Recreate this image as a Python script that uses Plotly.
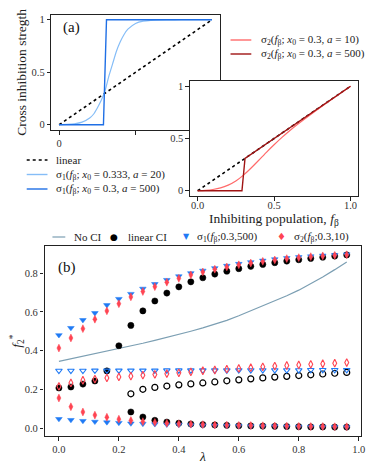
import plotly.graph_objects as go

W, H = 377, 465

# ---------------- Panel (a): cross-inhibition functions ----------------
f_lin = [0.0, 1.0]
lin_val = [0.0, 1.0]

f_s1_soft = [0.0, 0.05, 0.1, 0.15, 0.2, 0.225, 0.25, 0.275, 0.3, 0.325, 0.35,
             0.375, 0.4, 0.425, 0.45, 0.5, 0.55, 0.6, 0.7, 0.8, 1.0]
s1_soft = [0.001, 0.003, 0.009, 0.025, 0.065, 0.10, 0.16, 0.23, 0.32, 0.46, 0.58,
           0.70, 0.79, 0.86, 0.91, 0.965, 0.987, 0.995, 0.999, 1.0, 1.0]

f_s1_step = [0.0, 0.29, 0.31, 1.0]
s1_step = [0.0, 0.0, 1.0, 1.0]

# ---------------- Inset: sigma_2 ----------------
f_s2_soft = [0.0, 0.05, 0.1, 0.15, 0.2, 0.25, 0.3, 0.35, 0.4, 0.45, 0.5, 0.55,
             0.6, 0.65, 0.7, 0.8, 0.9, 1.0]
s2_soft = [0.0, 0.004, 0.012, 0.027, 0.054, 0.094, 0.15, 0.218, 0.292, 0.368,
           0.44, 0.508, 0.572, 0.631, 0.687, 0.795, 0.898, 0.999]

f_s2_step = [0.0, 0.29, 0.31, 1.0]
s2_step = [0.0, 0.0, 0.31, 1.0]

# ---------------- Panel (b): fixed points vs lambda ----------------
lam = [0.00, 0.04, 0.08, 0.12, 0.16, 0.20, 0.24, 0.28, 0.32, 0.36, 0.40, 0.44,
       0.48, 0.52, 0.56, 0.60, 0.64, 0.68, 0.72, 0.76, 0.80, 0.84, 0.88, 0.92, 0.96]

no_ci = [0.344, 0.357, 0.370, 0.383, 0.396, 0.410, 0.424, 0.438, 0.453, 0.468,
         0.484, 0.500, 0.517, 0.535, 0.556, 0.580, 0.605, 0.630, 0.655, 0.683,
         0.712, 0.745, 0.780, 0.818, 0.858]

N = None
lin_hi = [N, N, N, N, N, 0.425, 0.530, 0.605, 0.656, 0.697, 0.729, 0.755, 0.776,
          0.795, 0.810, 0.823, 0.835, 0.845, 0.854, 0.862, 0.869, 0.876, 0.882,
          0.888, 0.894]
lin_lo = [0.207, 0.212, 0.227, 0.243, 0.295, N, 0.083, 0.057, 0.040, 0.031, 0.025,
          0.021, 0.018, 0.016, 0.014, 0.012, 0.011, 0.010, 0.009, 0.008, 0.007,
          0.006, 0.006, 0.005, 0.005]
lin_mid = [N, N, N, N, N, N, 0.177, 0.200, 0.210, 0.217, 0.223, 0.228, 0.233,
           0.238, 0.244, 0.249, 0.254, 0.259, 0.263, 0.267, 0.271, 0.275, 0.279,
           0.283, 0.287]

s1_hi = [0.480, 0.517, 0.558, 0.594, 0.635, 0.667, 0.693, 0.720, 0.744, 0.765,
         0.784, 0.800, 0.813, 0.826, 0.838, 0.848, 0.857, 0.865, 0.872, 0.878,
         0.883, 0.887, 0.891, 0.894, 0.897]
s1_mid = [0.296, 0.296, 0.296, 0.297, 0.297, 0.297, 0.297, 0.297, 0.297, 0.298,
          0.298, 0.298, 0.298, 0.298, 0.298, 0.299, 0.299, 0.299, 0.299, 0.299,
          0.299, 0.300, 0.300, 0.300, 0.300]
s1_lo = [0.047, 0.042, 0.037, 0.033, 0.030, 0.027, 0.024, 0.022, 0.020, 0.018,
         0.017, 0.015, 0.014, 0.013, 0.012, 0.011, 0.010, 0.009, 0.009, 0.008,
         0.007, 0.007, 0.006, 0.006, 0.005]

s2_hi = [0.413, 0.465, 0.513, 0.562, 0.605, 0.642, 0.677, 0.705, 0.730, 0.753,
         0.773, 0.791, 0.806, 0.820, 0.832, 0.843, 0.852, 0.861, 0.868, 0.875,
         0.880, 0.885, 0.889, 0.892, 0.895]
s2_mid = [0.215, 0.233, 0.247, 0.253, 0.259, 0.264, 0.268, 0.273, 0.277, 0.281,
          0.285, 0.290, 0.296, 0.300, 0.304, 0.308, 0.312, 0.316, 0.320, 0.323,
          0.326, 0.329, 0.332, 0.335, 0.338]
s2_lo = [0.155, 0.110, 0.083, 0.067, 0.056, 0.046, 0.039, 0.033, 0.029, 0.025,
         0.022, 0.020, 0.018, 0.016, 0.015, 0.014, 0.013, 0.012, 0.011, 0.010,
         0.009, 0.008, 0.008, 0.007, 0.007]

# legend / label texts
LBL_LIN = "linear"
LBL_S1_SOFT = "σ<sub>1</sub>(<i>f</i><sub>β</sub>; <i>x</i><sub>0</sub> = 0.333, <i>a</i> = 20)"
LBL_S1_STEP = "σ<sub>1</sub>(<i>f</i><sub>β</sub>; <i>x</i><sub>0</sub> = 0.3, <i>a</i> = 500)"
LBL_S2_SOFT = "σ<sub>2</sub>(<i>f</i><sub>β</sub>; <i>x</i><sub>0</sub> = 0.3, <i>a</i> = 10)"
LBL_S2_STEP = "σ<sub>2</sub>(<i>f</i><sub>β</sub>; <i>x</i><sub>0</sub> = 0.3, <i>a</i> = 500)"
LBL_NOCI = "No CI"
LBL_LINCI = "linear CI"
LBL_S1_B = "σ<sub>1</sub>(<i>f</i><sub>β</sub>;0.3,500)"
LBL_S2_B = "σ<sub>2</sub>(<i>f</i><sub>β</sub>;0.3,10)"

# ---------------- styles ----------------
FONT = "Liberation Serif"
C_LBLUE = "#85bdf7"
C_BLUE = "#1f6fe5"
C_LRED = "#ff6b6b"
C_DRED = "#a01414"
C_NOCI = "#7c9fb3"
C_MBLUE = "#1f7af5"
C_MRED = "#ff4452"

fig = go.Figure()

# Panel (a)
fig.add_trace(go.Scatter(x=f_lin, y=lin_val, mode="lines", name=LBL_LIN,
                         line=dict(color="black", width=1.6, dash="dot"),
                         xaxis="x", yaxis="y"))
fig.add_trace(go.Scatter(x=f_s1_soft, y=s1_soft, mode="lines", name=LBL_S1_SOFT,
                         line=dict(color=C_LBLUE, width=1.2, shape="spline", smoothing=0.6),
                         xaxis="x", yaxis="y"))
fig.add_trace(go.Scatter(x=f_s1_step, y=s1_step, mode="lines", name=LBL_S1_STEP,
                         line=dict(color=C_BLUE, width=1.4),
                         xaxis="x", yaxis="y"))

# Inset
fig.add_trace(go.Scatter(x=f_lin, y=lin_val, mode="lines", name=LBL_LIN,
                         line=dict(color="black", width=1.6, dash="dot"),
                         xaxis="x2", yaxis="y2"))
fig.add_trace(go.Scatter(x=f_s2_soft, y=s2_soft, mode="lines", name=LBL_S2_SOFT,
                         line=dict(color=C_LRED, width=1.2, shape="spline", smoothing=0.6),
                         xaxis="x2", yaxis="y2"))
fig.add_trace(go.Scatter(x=f_s2_step, y=s2_step, mode="lines", name=LBL_S2_STEP,
                         line=dict(color=C_DRED, width=1.4),
                         xaxis="x2", yaxis="y2"))

# Panel (b)
fig.add_trace(go.Scatter(x=lam, y=no_ci, mode="lines", name=LBL_NOCI,
                         line=dict(color=C_NOCI, width=1.2),
                         xaxis="x3", yaxis="y3"))

def pts(y, name, symbol, color, size, lw):
    return go.Scatter(x=lam, y=y, mode="markers", name=name,
                      marker=dict(symbol=symbol, color=color, size=size,
                                  line=dict(color=color, width=lw)),
                      xaxis="x3", yaxis="y3")

fig.add_trace(pts(lin_hi, LBL_LINCI, "circle", "black", 6.2, 0.5))
fig.add_trace(pts(lin_lo, LBL_LINCI, "circle", "black", 6.2, 0.5))
fig.add_trace(pts(lin_mid, LBL_LINCI, "circle-open", "black", 6.0, 1.2))
fig.add_trace(pts(s1_hi, "σ1", "triangle-down", C_MBLUE, 5.8, 0.5))
fig.add_trace(pts(s1_lo, "σ1", "triangle-down", C_MBLUE, 5.8, 0.5))
fig.add_trace(pts(s1_mid, "σ1", "triangle-down-open", C_MBLUE, 5.8, 1.1))
fig.add_trace(pts(s2_hi, "σ2", "diamond-tall", C_MRED, 5.6, 0.5))
fig.add_trace(pts(s2_lo, "σ2", "diamond-tall", C_MRED, 5.6, 0.5))
fig.add_trace(pts(s2_mid, "σ2", "diamond-tall-open", C_MRED, 5.6, 1.1))


def px(x):
    return x / W


def py(y):
    return 1 - y / H


tickfont = dict(family=FONT, size=10.5, color="#333")
axis_common = dict(showline=True, linecolor="#222", linewidth=1.2, mirror=True,
                   ticks="outside", ticklen=3.5, tickwidth=1, tickcolor="#222",
                   showgrid=False, zeroline=False, tickfont=tickfont)

LEG = dict(family=FONT, size=11, color="#222")
TITLE = dict(family=FONT, size=13.5, color="#222")

annotations = []
shapes = []


def text(t, x, y, font, xanchor="left", angle=0):
    annotations.append(dict(text=t, x=px(x), y=py(y), xref="paper", yref="paper",
                            xanchor=xanchor, yanchor="middle", showarrow=False,
                            textangle=angle, font=font))


def key_line(x0, x1, y, color, width, dash="solid"):
    shapes.append(dict(type="line", xref="paper", yref="paper",
                       x0=px(x0), x1=px(x1), y0=py(y), y1=py(y),
                       line=dict(color=color, width=width, dash=dash)))


def key_glyph(g, x, y, color, size):
    annotations.append(dict(text=g, x=px(x), y=py(y), xref="paper", yref="paper",
                            xanchor="center", yanchor="middle", showarrow=False,
                            font=dict(family="DejaVu Sans", size=size, color=color)))


# legend of panel (a)
key_line(27, 48, 160, "black", 1.6, "dot")
text(LBL_LIN, 55, 160, LEG)
key_line(27, 48, 174.5, C_LBLUE, 1.4)
text(LBL_S1_SOFT, 55, 174.5, LEG)
key_line(27, 48, 189, C_BLUE, 1.4)
text(LBL_S1_STEP, 55, 189, LEG)

# legend of the inset
key_line(233, 254, 40, C_LRED, 1.4)
text(LBL_S2_SOFT, 262, 40, LEG)
key_line(233, 254, 54, C_DRED, 1.4)
text(LBL_S2_STEP, 262, 54, LEG)

# legend of panel (b)
key_line(53, 66, 237, C_NOCI, 1.2)
text(LBL_NOCI, 73, 237, LEG)
key_glyph("●", 115, 237, "black", 9)
text(LBL_LINCI, 127, 237, LEG)
key_glyph("▼", 188, 237, C_MBLUE, 8)
text(LBL_S1_B, 197, 237, LEG)
key_glyph("♦", 285, 237, C_MRED, 10)
text(LBL_S2_B, 295, 237, LEG)

# axis titles
text("Cross inhibition stregth", 22, 72, TITLE, xanchor="center", angle=-90)
text("Inhibiting population, <i>f</i><sub>β</sub>", 277, 219, TITLE, xanchor="center")
text("<i>f</i><sub>2</sub><sup>*</sup>", 17, 341, TITLE, xanchor="center", angle=-90)
text("<i>λ</i>", 205, 456, TITLE, xanchor="center")

# panel labels
text("(a)", 72, 28, dict(family=FONT, size=15, color="#111"), xanchor="center")
text("(b)", 68, 267, dict(family=FONT, size=15, color="#111"), xanchor="center")

fig.update_layout(
    width=W, height=H,
    margin=dict(l=0, r=0, t=0, b=0),
    paper_bgcolor="white", plot_bgcolor="white",
    showlegend=False,
    font=dict(family=FONT, size=11, color="#222"),
    xaxis=dict(domain=[px(52), px(222)], range=[-0.05, 1.05], anchor="y",
               tickvals=[0, 0.5, 1], ticktext=["0", "", ""], **axis_common),
    yaxis=dict(domain=[py(130), py(14.5)], range=[-0.05, 1.05], anchor="x",
               tickvals=[0, 0.5, 1], ticktext=["0", "0.5", "1"], **axis_common),
    xaxis2=dict(domain=[px(192), px(362)], range=[-0.05, 1.05], anchor="y2",
                tickvals=[0, 0.5, 1], ticktext=["0.0", "0.5", "1.0"],
                ticklabelstandoff=-4, **axis_common),
    yaxis2=dict(domain=[py(196), py(81)], range=[-0.05, 1.05], anchor="x2",
                tickvals=[0, 0.5, 1], ticktext=["0", "0.5", "1"], **axis_common),
    xaxis3=dict(domain=[px(45), px(365)], range=[-0.048, 1.008], anchor="y3",
                tickvals=[0, 0.2, 0.4, 0.6, 0.8, 1.0],
                ticktext=["0.0", "0.2", "0.4", "0.6", "0.8", "1.0"], **axis_common),
    yaxis3=dict(domain=[py(436), py(246)], range=[-0.041, 0.94], anchor="x3",
                tickvals=[0, 0.2, 0.4, 0.6, 0.8],
                ticktext=["0.0", "0.2", "0.4", "0.6", "0.8"], **axis_common),
    annotations=annotations,
    shapes=shapes,
)

fig.write_html("out.html",
               config={"displayModeBar": False},
               post_script="document.body.style.margin='0px';"
                           "document.body.style.padding='0px';")
